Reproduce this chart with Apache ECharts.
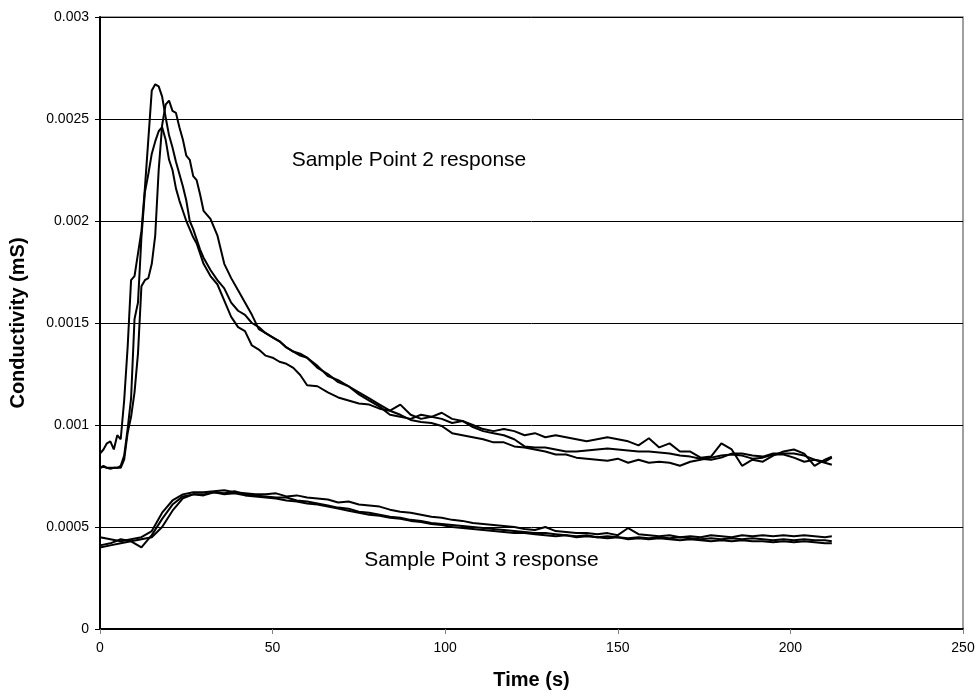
<!DOCTYPE html>
<html>
<head>
<meta charset="utf-8">
<script src="https://cdn.jsdelivr.net/npm/echarts@6/dist/echarts.min.js"></script>
<style>
  html, body { margin: 0; background: #fff; }
  #chart { width: 978px; height: 700px; }
</style>
</head>
<body>
<div id="chart"></div>
<script>
// values are read in units of 1e-4 mS
const UNIT = 1e-4;

const timeP2 = [0, 1, 2, 3, 4, 5, 6, 7, 8, 9, 10, 11, 12, 13, 14, 15, 16, 17, 18, 19, 20,
  21, 22, 23, 24, 25, 26, 27, 28, 29, 30,
  32, 34, 36, 38, 40, 42, 44, 46, 48, 50, 52, 54, 56, 58, 60,
  63, 66, 69, 72, 75, 78, 81, 84, 87, 90, 93, 96, 99, 102, 105, 108, 111, 114, 117, 120,
  123, 126, 129, 132, 135, 138, 141, 144, 147, 150, 153, 156, 159, 162, 165, 168, 171, 174, 177, 180,
  183, 186, 189, 192, 195, 198, 201, 204, 207, 210, 212];

const p2RunA = [8.6, 8.8, 9.1, 9.2, 8.8, 9.5, 9.3, 11.2, 13.8, 17.1, 17.3, 18.4, 19.5, 21.6, 24.0, 26.4,
  26.7, 26.6, 26.1, 25.1, 24.2, 23.6, 22.9, 22.3, 21.7, 21.0, 20.0, 19.6, 19.1, 18.6, 18.2,
  17.6, 17.1, 16.7, 16.0, 15.6, 15.4, 15.0, 14.8, 14.5, 14.3, 14.1, 13.8, 13.6, 13.5, 13.3,
  12.8, 12.5, 12.1, 11.9, 11.6, 11.3, 11.0, 10.7, 11.0, 10.5,
  10.3, 10.4, 10.6, 10.3, 10.2, 10.0, 9.8, 9.7, 9.8, 9.7,
  9.5, 9.6, 9.4, 9.5, 9.4, 9.3, 9.2, 9.3, 9.4, 9.3,
  9.2, 9.0, 9.35, 8.9, 9.1, 8.7, 8.7, 8.4, 8.45, 9.1,
  8.8, 8.0, 8.3, 8.2, 8.5, 8.7, 8.8, 8.6, 8.0, 8.3, 8.45];

const p2RunB = [7.9, 8.0, 7.9, 7.9, 7.9, 7.9, 7.9, 8.3, 9.6, 10.4, 11.6, 13.5, 16.8, 17.1, 17.2, 17.9,
  19.3, 22.5, 24.7, 25.7, 25.9, 25.4, 25.3, 24.6, 24.0, 23.2, 23.0, 22.2, 22.0, 21.3, 20.5,
  20.1, 19.3, 17.9, 17.2, 16.6, 16.0, 15.4, 14.7, 14.5, 14.3, 14.1, 13.8, 13.6, 13.4, 13.3,
  12.9, 12.4, 12.2, 11.9, 11.5, 11.2, 10.9, 10.5, 10.4, 10.3,
  10.5, 10.4, 10.3, 10.1, 10.2, 9.9, 9.7, 9.6, 9.5, 9.3,
  8.95, 8.9, 8.9, 8.8, 8.7, 8.7, 8.75, 8.8, 8.85, 8.8,
  8.75, 8.7, 8.7, 8.65, 8.6, 8.5, 8.45, 8.35, 8.3, 8.4,
  8.6, 8.6, 8.5, 8.45, 8.6, 8.6, 8.6, 8.5, 8.3, 8.15, 8.05];

const p2RunC = [7.9, 7.95, 7.9, 7.85, 7.9, 7.9, 8.0, 8.5, 9.8, 11.3, 15.2, 16.0, 19.2, 21.4, 22.3, 23.3,
  23.9, 24.4, 24.6, 24.0, 23.0, 22.5, 21.6, 21.0, 20.5, 20.0, 19.6, 19.2, 18.9, 18.4, 17.9,
  17.3, 16.9, 16.1, 15.3, 14.8, 14.6, 13.9, 13.7, 13.4, 13.3, 13.1, 13.0, 12.8, 12.45, 11.95,
  11.9, 11.6, 11.35, 11.2, 11.05, 11.0, 10.8, 10.7, 10.5, 10.25,
  10.15, 10.1, 9.95, 9.6, 9.5, 9.4, 9.3, 9.15, 9.15, 8.95,
  8.9, 8.8, 8.7, 8.55, 8.55, 8.4, 8.35, 8.3, 8.25, 8.35,
  8.15, 8.3, 8.15, 8.2, 8.15, 8.0, 8.2, 8.3, 8.4, 8.5,
  8.55, 8.5, 8.35, 8.4, 8.55, 8.55, 8.4, 8.2, 8.3, 8.2, 8.4];

const timeP3 = [0, 3, 6, 9, 12, 15, 18, 21, 24, 27, 30, 33, 36, 39, 42, 45, 48, 51, 54, 57,
  60, 63, 66, 69, 72, 75, 78, 81, 84, 87, 90, 93, 96, 99, 102, 105, 108, 111, 114, 117,
  120, 123, 126, 129, 132, 135, 138, 141, 144, 147, 150, 153, 156, 159, 162, 165, 168, 171, 174, 177,
  180, 183, 186, 189, 192, 195, 198, 201, 204, 207, 210, 212];

const p3RunA = [4.5, 4.4, 4.3, 4.4, 4.5, 4.8, 5.7, 6.3, 6.6, 6.7,
  6.7, 6.75, 6.8, 6.7, 6.65, 6.6, 6.6, 6.65, 6.5, 6.55,
  6.45, 6.4, 6.35, 6.2, 6.25, 6.1, 6.05, 6.0, 5.85, 5.75,
  5.7, 5.6, 5.5, 5.45, 5.35, 5.3, 5.2, 5.15, 5.1, 5.05,
  5.0, 4.9, 4.85, 5.0, 4.8, 4.75, 4.7, 4.7, 4.65, 4.7,
  4.6, 4.95, 4.65, 4.6, 4.55, 4.6, 4.5, 4.55, 4.5, 4.6,
  4.55, 4.5, 4.6, 4.55, 4.6, 4.55, 4.6, 4.55, 4.6, 4.55, 4.5, 4.55];

const p3RunB = [4.1, 4.2, 4.4, 4.3, 4.0, 4.6, 5.4, 6.1, 6.5, 6.6,
  6.6, 6.7, 6.65, 6.75, 6.6, 6.55, 6.5, 6.45, 6.45, 6.3,
  6.25, 6.15, 6.05, 5.95, 5.9, 5.75, 5.7, 5.6, 5.5, 5.45,
  5.35, 5.3, 5.2, 5.15, 5.1, 5.05, 5.0, 4.95, 4.9, 4.85,
  4.8, 4.75, 4.7, 4.7, 4.65, 4.6, 4.55, 4.6, 4.5, 4.55,
  4.5, 4.45, 4.5, 4.45, 4.5, 4.45, 4.5, 4.45, 4.4, 4.45,
  4.4, 4.45, 4.4, 4.45, 4.4, 4.35, 4.4, 4.35, 4.4, 4.35, 4.35, 4.3];

const p3RunC = [4.0, 4.1, 4.2, 4.3, 4.4, 4.5, 5.0, 5.8, 6.4, 6.6,
  6.55, 6.7, 6.6, 6.65, 6.55, 6.5, 6.45, 6.4, 6.3, 6.25,
  6.15, 6.1, 6.0, 5.9, 5.8, 5.7, 5.6, 5.55, 5.45, 5.4,
  5.3, 5.25, 5.15, 5.1, 5.0, 4.95, 4.9, 4.85, 4.8, 4.75,
  4.7, 4.7, 4.65, 4.6, 4.55, 4.6, 4.5, 4.55, 4.5, 4.45,
  4.5, 4.4, 4.45, 4.4, 4.45, 4.4, 4.35, 4.4, 4.35, 4.3,
  4.35, 4.3, 4.35, 4.3, 4.3, 4.25, 4.3, 4.25, 4.3, 4.25, 4.2, 4.2];

// annotation anchors, in data coordinates [s, mS]
const label2Anchor = [89.5, 0.0023];
const label3Anchor = [110.5, 0.000335];

const FONT = "'Liberation Sans', Arial, sans-serif";

function pairs(times, values) {
  return times.map((t, i) => [t, values[i] * UNIT]);
}

function runSeries(times, values, note) {
  const s = {
    type: "line",
    data: pairs(times, values),
    showSymbol: false,
    symbol: "none",
    lineStyle: { color: "#000", width: 2 },
    z: 3,
  };
  if (note) {
    s.markPoint = {
      symbol: "circle",
      symbolSize: 1,
      itemStyle: { color: "rgba(0,0,0,0)" },
      label: {
        show: true,
        position: "inside",
        color: "#000",
        fontFamily: FONT,
        fontSize: 21,
        formatter: note.text,
      },
      data: [{ coord: note.at }],
    };
  }
  return s;
}

const chart = echarts.init(document.getElementById("chart"));
chart.setOption({
  animation: false,
  backgroundColor: "#fff",
  grid: {
    left: 100,
    right: 15,
    top: 17,
    bottom: 71,
    show: true,
    borderColor: "#808080",
    borderWidth: 1.5,
  },
  xAxis: {
    type: "value",
    min: 0,
    max: 250,
    interval: 50,
    name: "Time (s)",
    nameLocation: "middle",
    nameGap: 41,
    nameTextStyle: { fontFamily: FONT, fontWeight: "bold", fontSize: 20, color: "#000" },
    axisLine: { show: true, lineStyle: { color: "#000", width: 2 } },
    axisTick: { show: true, length: 5, lineStyle: { color: "#808080" } },
    axisLabel: { fontFamily: FONT, fontSize: 14, color: "#000", margin: 12 },
    splitLine: { show: false },
  },
  yAxis: {
    type: "value",
    min: 0,
    max: 0.003,
    interval: 0.0005,
    name: "Conductivity (mS)",
    nameLocation: "middle",
    nameGap: 72,
    nameTextStyle: { fontFamily: FONT, fontWeight: "bold", fontSize: 20, color: "#000" },
    axisLine: { show: true, lineStyle: { color: "#000", width: 2 } },
    axisTick: { show: true, length: 5, lineStyle: { color: "#000" } },
    axisLabel: {
      fontFamily: FONT,
      fontSize: 14,
      color: "#000",
      margin: 11,
      formatter: (v) => (v === 0 ? "0" : String(+v.toFixed(4))),
    },
    splitLine: { show: true, lineStyle: { color: "#000", width: 1 } },
  },
  series: [
    runSeries(timeP2, p2RunA, { text: "Sample Point 2 response", at: label2Anchor }),
    runSeries(timeP2, p2RunB),
    runSeries(timeP2, p2RunC),
    runSeries(timeP3, p3RunA, { text: "Sample Point 3 response", at: label3Anchor }),
    runSeries(timeP3, p3RunB),
    runSeries(timeP3, p3RunC),
  ],
});
</script>
</body>
</html>
